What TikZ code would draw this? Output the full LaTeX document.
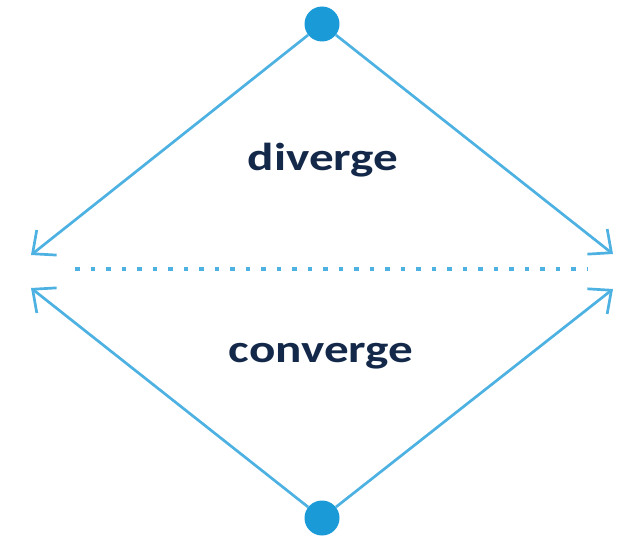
\documentclass[tikz,border=0pt]{standalone}
\usepackage{fontspec}
\setmainfont{Carlito}
\newfontfamily\lblfont[FakeStretch=1.26]{Carlito}
\usetikzlibrary{arrows.meta}
\definecolor{linecol}{HTML}{4DB1E2}
\definecolor{dotcol}{HTML}{1B9AD8}
\definecolor{txtcol}{HTML}{14294A}
\tikzset{
  dotnode/.style={circle,fill=dotcol,inner sep=0pt,minimum size=35pt},
  flow/.style={draw=linecol,line width=2.7pt,-{Straight Barb[length=18pt,width=32pt,line width=2.7pt]}},
  sep/.style={draw=linecol,line width=4.5pt,dash pattern=on 4.5pt off 11pt},
  lbl/.style={text=txtcol,font=\lblfont\bfseries\fontsize{39}{41}\selectfont,anchor=base,inner sep=0pt}
}
\begin{document}
\begin{tikzpicture}[x=1pt,y=-1pt]
\useasboundingbox (0,0) rectangle (631,535);
\node[dotnode] (top) at (322,24) {};
\node[dotnode] (bot) at (322,518) {};
\coordinate (ul) at (31,255);
\coordinate (ur) at (613,254);
\coordinate (ll) at (31,288);
\coordinate (lr) at (613,289);
\coordinate (sl) at (75,269);
\coordinate (sr) at (588,269);
\draw[flow] (top) -- (ul);
\draw[flow] (top) -- (ur);
\draw[flow] (bot) -- (ll);
\draw[flow] (bot) -- (lr);
\draw[sep] (sl) -- (sr);
\node[lbl] (div) at (323,170) {diverge};
\node[lbl] (con) at (321,362) {converge};
\end{tikzpicture}
\end{document}
